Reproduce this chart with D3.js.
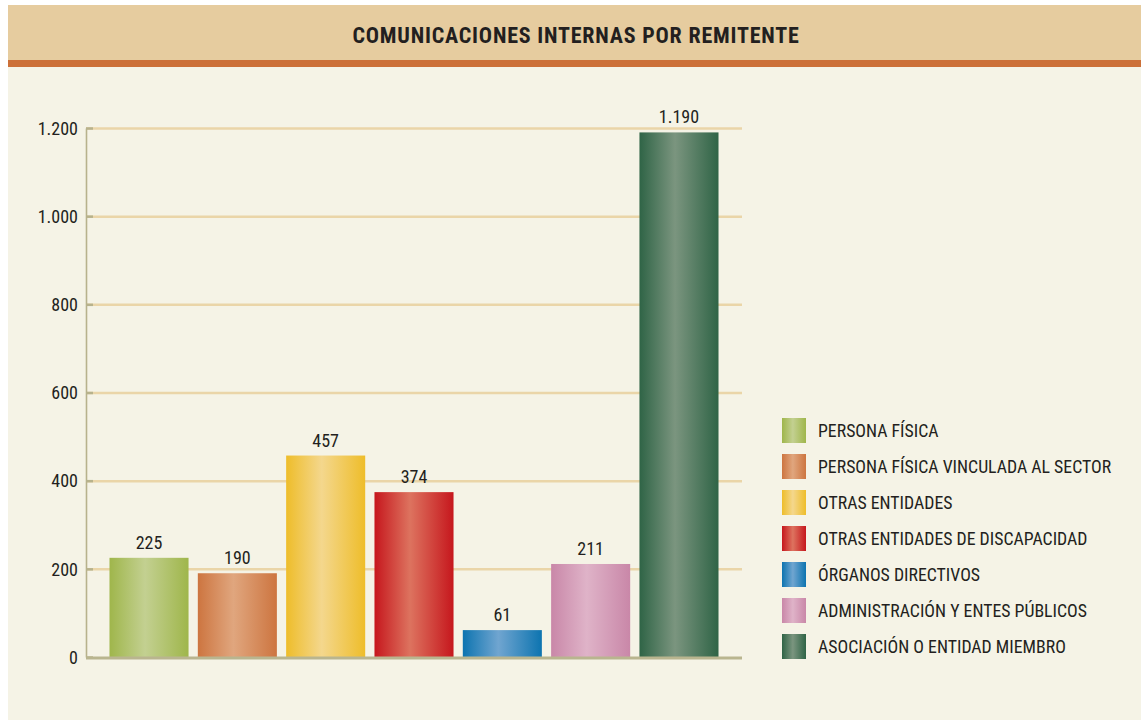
<!DOCTYPE html>
<html>
<head>
<meta charset="utf-8">
<script src="https://cdn.jsdelivr.net/npm/d3@7"></script>
<style>
html,body{margin:0;padding:0;background:#ffffff;}
svg{display:block;}
text{font-family:"Liberation Sans Narrow","Arial Narrow","Roboto Condensed","Liberation Sans",sans-serif;fill:#231f20;}
</style>
</head>
<body>
<svg id="chart" width="1141" height="720"></svg>
<script>
const title = "COMUNICACIONES INTERNAS POR REMITENTE";
const categories = ["PERSONA FÍSICA","PERSONA FÍSICA VINCULADA AL SECTOR","OTRAS ENTIDADES","OTRAS ENTIDADES DE DISCAPACIDAD","ÓRGANOS DIRECTIVOS","ADMINISTRACIÓN Y ENTES PÚBLICOS","ASOCIACIÓN O ENTIDAD MIEMBRO"];
const values = [225,190,457,374,61,211,1190];
const valueLabels = ["225","190","457","374","61","211","1.190"];
const yTicks = [0,200,400,600,800,1000,1200];
const yTickLabels = ["0","200","400","600","800","1.000","1.200"];
const edgeColors = ["#9fb64b","#cd7540","#eebd2a","#c6171d","#0d74b0","#c987a8","#2f6446"];
const midColors  = ["#c3d091","#e0a67e","#f4d78d","#dd735f","#70a5d0","#dfb3c8","#7b957f"];

const svg = d3.select("#chart");
const W = 1141, H = 720;

// backgrounds
svg.append("rect").attr("x",8).attr("y",67).attr("width",W-8).attr("height",H-67).attr("fill","#f5f3e6");
svg.append("rect").attr("x",8).attr("y",5).attr("width",W-8).attr("height",55).attr("fill","#e6cc9f");
svg.append("rect").attr("x",8).attr("y",60).attr("width",W-8).attr("height",7).attr("fill","#cc7038");
svg.append("text").attr("x",576).attr("y",43).attr("text-anchor","middle")
  .style("font-size","22px").style("font-weight","bold").style("letter-spacing","0.8px").text(title);

const x = d3.scaleBand().domain(categories).range([86,742]).paddingInner(0.105).paddingOuter(0.266);
const y = d3.scaleLinear().domain([0,1200]).range([657,128]);

// gradients
const defs = svg.append("defs");
categories.forEach((c,i)=>{
  const g = defs.append("linearGradient").attr("id","g"+i).attr("x1","0%").attr("x2","100%").attr("y1","0%").attr("y2","0%");
  g.append("stop").attr("offset","0%").attr("stop-color",edgeColors[i]);
  g.append("stop").attr("offset","45%").attr("stop-color",midColors[i]);
  g.append("stop").attr("offset","100%").attr("stop-color",edgeColors[i]);
});

// gridlines
const gridAxis = d3.axisLeft(y).tickValues(yTicks.filter(d=>d>0)).tickSize(-(742-86)).tickFormat("");
const grid = svg.append("g").attr("transform","translate(86,0)").call(gridAxis);
grid.select(".domain").remove();
grid.selectAll(".tick line").attr("stroke","#ead5a8").attr("stroke-width",2.5);

// y axis with tick labels
const yAxis = d3.axisLeft(y).tickValues(yTicks).tickSize(0).tickPadding(8)
  .tickFormat((d,i)=>yTickLabels[i]);
const ya = svg.append("g").attr("transform","translate(86,0)").call(yAxis);
ya.attr("font-family",null).attr("font-size",null);
ya.select(".domain").attr("stroke","#b7b28c").attr("stroke-width",1.6);
ya.selectAll(".tick text").style("font-size","18px").attr("fill","#231f20").attr("dy","0.35em");
// small tick stubs
ya.selectAll(".tick").append("line").attr("x1",0).attr("x2",7).attr("stroke","#b7b28c").attr("stroke-width",2.5);

// bars
svg.append("g").selectAll("rect").data(values).join("rect")
  .attr("x",(d,i)=>x(categories[i]))
  .attr("width",x.bandwidth())
  .attr("y",d=>y(d))
  .attr("height",d=>y(0)-y(d))
  .attr("fill",(d,i)=>"url(#g"+i+")");

// baseline
svg.append("line").attr("x1",86).attr("x2",742).attr("y1",y(0)+1).attr("y2",y(0)+1)
  .attr("stroke","#b9b58f").attr("stroke-width",3);

// value labels
svg.append("g").selectAll("text").data(values).join("text")
  .attr("x",(d,i)=>x(categories[i])+x.bandwidth()/2)
  .attr("y",d=>y(d)-9)
  .attr("text-anchor","middle")
  .style("font-size","18px")
  .text((d,i)=>valueLabels[i]);

// legend
const lg = svg.append("g").attr("transform","translate(782,418)");
const rows = lg.selectAll("g").data(categories).join("g").attr("transform",(d,i)=>`translate(0,${i*36})`);
rows.append("rect").attr("width",24).attr("height",25).attr("fill",(d,i)=>"url(#g"+i+")");
rows.append("text").attr("x",36).attr("y",12.5).attr("dy","0.35em").style("font-size","17.8px").text(d=>d);
</script>
</body>
</html>
